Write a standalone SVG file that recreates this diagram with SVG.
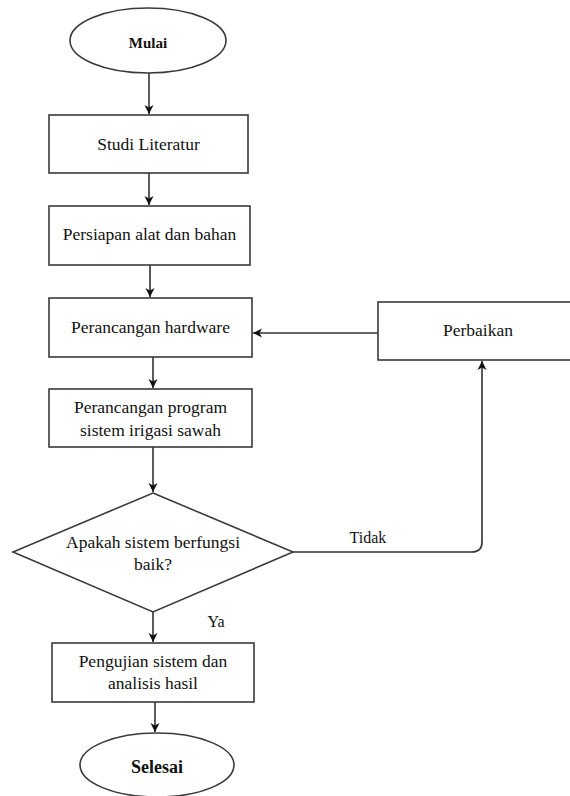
<svg xmlns="http://www.w3.org/2000/svg" width="570" height="796" viewBox="0 0 570 796">
<style>
.shape{fill:#fff;stroke:#3a3a3a;stroke-width:1.6}
.t{font-family:"Liberation Serif","Times New Roman",Tinos,"DejaVu Serif",serif;font-size:17.5px;fill:#111;text-anchor:middle}
.lbl{font-size:16px}
.m{font-size:15px;font-weight:bold}
.s{font-size:18px;font-weight:bold}
.c{fill:none;stroke:#333;stroke-width:1.6}
</style>
<defs>
<marker id="ah" markerWidth="10" markerHeight="10" refX="9" refY="5" orient="auto" markerUnits="userSpaceOnUse">
<path d="M0,0.5 L9,5 L0,9.5 L2.5,5 Z" fill="#111"/>
</marker>
</defs>
<rect width="570" height="796" fill="#fff"/>
<g id="connectors">
<line class="c" x1="149" y1="73" x2="149" y2="114" marker-end="url(#ah)"/>
<line class="c" x1="149" y1="173" x2="149" y2="205" marker-end="url(#ah)"/>
<line class="c" x1="150" y1="265" x2="150" y2="297" marker-end="url(#ah)"/>
<line class="c" x1="378" y1="333" x2="253" y2="333" marker-end="url(#ah)"/>
<line class="c" x1="153" y1="357" x2="153" y2="388" marker-end="url(#ah)"/>
<line class="c" x1="153" y1="447" x2="153" y2="492" marker-end="url(#ah)"/>
<path class="c" d="M293,552 H472 Q482,552 482,542 V361" marker-end="url(#ah)"/>
<line class="c" x1="153" y1="612" x2="153" y2="642" marker-end="url(#ah)"/>
<line class="c" x1="155" y1="702" x2="155" y2="732" marker-end="url(#ah)"/>
<text class="t lbl" x="368" y="543">Tidak</text>
<text class="t lbl" x="216" y="627">Ya</text>
</g>
<g id="mulai">
<ellipse class="shape" cx="148" cy="40.5" rx="78" ry="32.5"/>
<text class="t m" x="148" y="48">Mulai</text>
</g>
<g id="studi">
<rect class="shape" x="49" y="115" width="199" height="58"/>
<text class="t" x="148.5" y="150">Studi Literatur</text>
</g>
<g id="persiapan">
<rect class="shape" x="49" y="206" width="201" height="59"/>
<text class="t" x="149.5" y="240">Persiapan alat dan bahan</text>
</g>
<g id="hardware">
<rect class="shape" x="49" y="298" width="203" height="59"/>
<text class="t" x="150.5" y="333">Perancangan hardware</text>
</g>
<g id="perbaikan">
<rect class="shape" x="378" y="302" width="196" height="58"/>
<text class="t" x="478" y="336">Perbaikan</text>
</g>
<g id="program">
<rect class="shape" x="49" y="389" width="203" height="58"/>
<text class="t" x="150.5" y="413">Perancangan program</text>
<text class="t" x="150.5" y="436">sistem irigasi sawah</text>
</g>
<g id="keputusan">
<polygon class="shape" points="153,493 293,552 153,612 13,552"/>
<text class="t" x="153" y="548">Apakah sistem berfungsi</text>
<text class="t" x="153" y="570">baik?</text>
</g>
<g id="pengujian">
<rect class="shape" x="52" y="643" width="202" height="59"/>
<text class="t" x="153" y="667">Pengujian sistem dan</text>
<text class="t" x="153" y="689">analisis hasil</text>
</g>
<g id="selesai">
<ellipse class="shape" cx="157" cy="765" rx="77" ry="32"/>
<text class="t s" x="157" y="773">Selesai</text>
</g>
</svg>
